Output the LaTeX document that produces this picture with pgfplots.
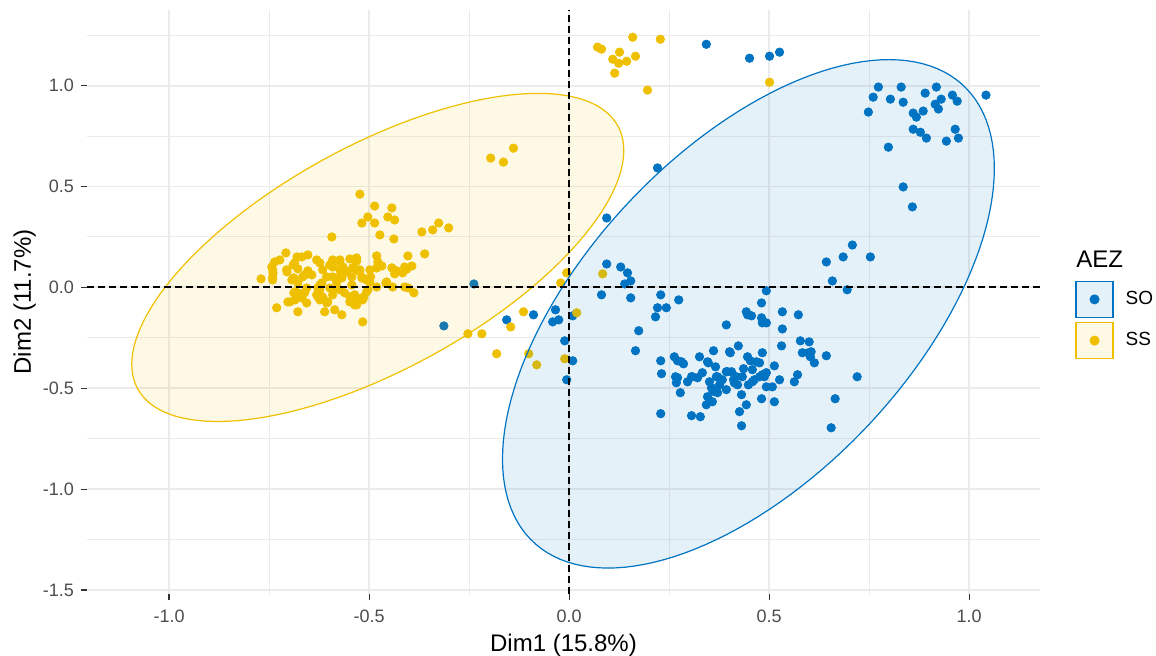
\documentclass[border=0pt]{standalone}
\usepackage{pgfplots}
\pgfplotsset{compat=1.18}
\usepackage{fontspec}
\setmainfont{Liberation Sans}
\definecolor{soblue}{HTML}{0073C2}
\definecolor{ssyellow}{HTML}{EFC000}
\definecolor{gridgrey}{HTML}{EBEBEB}
\definecolor{ticktext}{HTML}{4D4D4D}
\begin{document}
\begin{tikzpicture}
\path[use as bounding box] (-43.5pt,-30.5pt) rectangle (534.5pt,297pt);
\begin{axis}[
  scale only axis, width=476.5pt, height=292pt,
  xmin=-1.205, xmax=1.177, ymin=-1.52, ymax=1.375,
  clip mode=individual,
  axis line style={draw=none},
  tick pos=left, tick align=outside, major tick length=3pt, minor tick length=0pt,
  tick style={color=black!80, line width=0.55pt},
  xtick={-1,-0.5,0,0.5,1},
  xticklabels={\textrm{-1.0},\textrm{-0.5},\textrm{0.0},\textrm{0.5},\textrm{1.0}},
  ytick={-1.5,-1,-0.5,0,0.5,1},
  yticklabels={\textrm{-1.5},\textrm{-1.0},\textrm{-0.5},\textrm{0.0},\textrm{0.5},\textrm{1.0}},
  minor xtick={-0.75,-0.25,0.25,0.75},
  minor ytick={-1.25,-0.75,-0.25,0.25,0.75,1.25},
  grid=both,
  major grid style={color=gridgrey, line width=0.9pt},
  minor grid style={color=gridgrey, line width=0.5pt},
  ticklabel style={font=\fontsize{9}{10}\selectfont, color=ticktext},
  xticklabel shift=1.5pt,
  xlabel={Dim1 (15.8\%)}, ylabel={Dim2 (11.7\%)},
  label style={font=\fontsize{12}{14}\selectfont, color=black},
  xlabel style={at={([yshift=-28.5pt]axis description cs:0.5,0)}, anchor=base},
  ylabel style={at={([xshift=-28pt]axis description cs:0,0.5)}, anchor=base},
  legend style={at={(axis description cs:1.0372,0.5363)}, anchor=north west,
    draw=none, fill=none, inner sep=0pt, outer sep=0pt, row sep=2pt,
    font=\fontsize{9.5}{11}\selectfont, nodes={inner sep=0pt},
    /tikz/every odd column/.append style={column sep=6pt}},
  legend cell align=left,
]
% SO (blue)
\addplot[soblue, only marks, mark=*, mark size=2.1pt, mark options={solid, draw=soblue, fill=soblue, line width=0.4pt},
  legend image code/.code={\draw[draw=soblue, fill=soblue!10, line width=0.6pt] (0pt,-9pt) rectangle (18.5pt,9pt); \fill[soblue] (9.25pt,0pt) circle (2.3pt);}]
table {
0.343 1.205
0.451 1.136
0.501 1.146
0.526 1.166
0.773 0.993
0.830 0.993
0.918 0.993
0.760 0.943
0.803 0.933
0.835 0.918
0.890 0.963
0.915 0.908
0.930 0.933
0.923 0.884
0.958 0.953
0.970 0.923
1.042 0.953
0.748 0.869
0.860 0.864
0.868 0.844
0.885 0.874
0.860 0.784
0.878 0.769
0.893 0.740
0.943 0.725
0.965 0.784
0.973 0.740
0.798 0.695
0.835 0.498
0.858 0.399
0.221 0.592
0.094 0.344
0.643 0.126
0.685 0.151
0.708 0.210
0.753 0.151
0.658 0.032
0.695 -0.012
-0.238 0.017
-0.313 -0.191
0.094 0.116
0.129 0.101
0.146 0.072
0.154 0.032
0.139 0.017
0.081 -0.037
0.154 -0.052
0.229 -0.037
0.221 -0.101
0.243 -0.101
0.216 -0.146
0.274 -0.062
-0.089 -0.136
-0.156 -0.161
-0.034 -0.111
-0.041 -0.171
-0.026 -0.161
0.009 -0.141
-0.011 -0.265
0.174 -0.215
0.166 -0.314
0.009 -0.364
-0.006 -0.458
0.229 -0.364
0.231 -0.428
0.229 -0.626
0.493 -0.017
0.481 -0.077
0.443 -0.121
0.446 -0.136
0.456 -0.141
0.481 -0.151
0.483 -0.176
0.493 -0.176
0.533 -0.121
0.573 -0.136
0.533 -0.206
0.393 -0.186
0.578 -0.265
0.600 -0.270
0.531 -0.290
0.583 -0.324
0.598 -0.324
0.605 -0.319
0.603 -0.344
0.613 -0.374
0.643 -0.339
0.720 -0.443
0.665 -0.552
0.655 -0.696
0.513 -0.389
0.526 -0.458
0.571 -0.433
0.563 -0.468
0.513 -0.567
0.481 -0.552
0.508 -0.493
0.493 -0.493
0.306 -0.636
0.328 -0.641
0.278 -0.522
0.268 -0.473
0.431 -0.686
0.426 -0.616
0.443 -0.582
0.361 -0.314
0.423 -0.290
0.401 -0.319
0.468 -0.369
0.446 -0.344
0.326 -0.344
0.263 -0.344
0.281 -0.369
0.346 -0.369
0.366 -0.394
0.333 -0.423
0.306 -0.443
0.296 -0.468
0.266 -0.443
0.371 -0.443
0.393 -0.418
0.406 -0.418
0.436 -0.403
0.433 -0.443
0.476 -0.443
0.458 -0.468
0.448 -0.483
0.483 -0.433
0.493 -0.423
0.393 -0.507
0.421 -0.483
0.431 -0.532
0.351 -0.468
0.356 -0.498
0.346 -0.542
0.343 -0.582
0.363 -0.517
0.376 -0.483
0.383 -0.458
0.411 -0.458
0.271 -0.364
0.286 -0.379
0.271 -0.448
0.308 -0.443
0.321 -0.448
0.348 -0.374
0.403 -0.324
0.453 -0.364
0.476 -0.374
0.483 -0.324
0.358 -0.567
0.371 -0.522
0.413 -0.473
0.418 -0.443
0.463 -0.458
0.488 -0.443
0.458 -0.408
0.368 -0.443
0.358 -0.507
0.396 -0.418
};
\addlegendentry{SO}
% SS (yellow)
\addplot[ssyellow, only marks, mark=*, mark size=2.1pt, mark options={solid, draw=ssyellow, fill=ssyellow, line width=0.4pt},
  legend image code/.code={\draw[draw=ssyellow, fill=ssyellow!10, line width=0.6pt] (0pt,-9pt) rectangle (18.5pt,9pt); \fill[ssyellow] (9.25pt,0pt) circle (2.3pt);}]
table {
0.071 1.191
0.081 1.181
0.159 1.240
0.228 1.230
0.126 1.166
0.109 1.131
0.124 1.111
0.144 1.121
0.166 1.146
0.114 1.062
0.196 0.978
0.501 1.017
-0.196 0.641
-0.164 0.621
-0.139 0.690
-0.006 0.072
-0.021 0.022
0.084 0.067
-0.114 -0.121
-0.146 -0.196
-0.253 -0.230
-0.218 -0.230
-0.181 -0.329
-0.101 -0.329
-0.081 -0.384
0.019 -0.126
-0.011 -0.354
-0.368 0.275
-0.341 0.285
-0.326 0.319
-0.301 0.295
-0.361 0.166
-0.523 0.462
-0.486 0.403
-0.443 0.394
-0.503 0.349
-0.518 0.319
-0.486 0.319
-0.453 0.349
-0.436 0.334
-0.593 0.250
-0.473 0.260
-0.438 0.240
-0.403 0.156
-0.393 0.106
-0.406 0.090
-0.431 0.082
-0.436 0.067
-0.411 0.002
-0.388 -0.027
-0.441 0.002
-0.458 0.022
-0.481 0.156
-0.478 0.126
-0.468 0.106
-0.481 0.096
-0.498 0.087
-0.496 0.052
-0.506 0.037
-0.481 0.002
-0.503 -0.012
-0.513 -0.047
-0.531 0.131
-0.531 0.087
-0.548 0.141
-0.573 0.136
-0.591 0.136
-0.591 0.101
-0.573 0.087
-0.556 0.077
-0.543 0.052
-0.573 0.052
-0.591 0.052
-0.581 0.027
-0.598 -0.003
-0.573 -0.012
-0.543 0.012
-0.536 -0.037
-0.548 -0.047
-0.536 -0.087
-0.568 -0.136
-0.586 -0.111
-0.611 -0.121
-0.516 -0.171
-0.591 -0.037
-0.603 -0.072
-0.616 -0.047
-0.623 -0.012
-0.631 -0.037
-0.618 0.022
-0.606 0.052
-0.616 0.087
-0.623 0.121
-0.631 0.136
-0.653 0.161
-0.668 0.151
-0.686 0.121
-0.678 0.092
-0.653 0.082
-0.643 0.062
-0.666 0.052
-0.688 0.047
-0.678 0.022
-0.656 -0.003
-0.678 -0.027
-0.668 -0.052
-0.661 -0.027
-0.656 -0.077
-0.678 -0.121
-0.703 -0.072
-0.731 -0.101
-0.741 0.052
-0.741 0.087
-0.741 0.037
-0.736 0.126
-0.723 0.136
-0.708 0.171
-0.706 0.087
-0.770 0.042
-0.628 -0.003
-0.623 -0.062
-0.688 -0.027
-0.443 0.097
-0.416 0.072
-0.403 -0.002
-0.531 0.146
-0.541 0.097
-0.523 0.077
-0.518 0.047
-0.498 0.027
-0.456 0.027
-0.506 -0.022
-0.531 -0.052
-0.411 0.101
-0.743 0.101
-0.740 0.072
-0.680 0.151
-0.573 0.126
-0.690 0.111
-0.705 0.077
-0.693 0.037
-0.660 0.062
-0.598 0.111
-0.565 0.101
-0.568 0.047
-0.523 0.087
-0.516 0.047
-0.623 0.012
-0.580 -0.002
-0.628 -0.047
-0.606 -0.077
-0.561 -0.027
-0.548 -0.072
-0.531 -0.087
-0.516 -0.062
-0.685 -0.022
-0.685 -0.062
-0.698 -0.072
};
\addlegendentry{SS}
% confidence ellipses
\addplot[forget plot, draw=soblue, line width=0.6pt, fill=soblue, fill opacity=0.1, domain=0:360, samples=145, variable=\t]
  ({0.4482+0.6147*cos(\t)}, {-0.1312+0.7200*cos(\t)+1.0343*sin(\t)});
\addplot[forget plot, draw=ssyellow, line width=0.6pt, fill=ssyellow, fill opacity=0.1, domain=0:360, samples=145, variable=\t]
  ({-0.4782+0.6149*cos(\t)}, {0.1485+0.5298*cos(\t)+0.6171*sin(\t)});
% reference lines
\addplot[forget plot, black, line width=0.9pt, dash pattern=on 3.5pt off 2pt] coordinates {(-1.205,0) (1.177,0)};
\addplot[forget plot, black, line width=0.9pt, dash pattern=on 3.5pt off 2pt] coordinates {(0,-1.52) (0,1.375)};
\node[anchor=base west, inner sep=0pt, font=\fontsize{12}{14}\selectfont] at ([xshift=494.5pt,yshift=163.5pt]axis description cs:0,0) {AEZ};
\end{axis}
\end{tikzpicture}
\end{document}
